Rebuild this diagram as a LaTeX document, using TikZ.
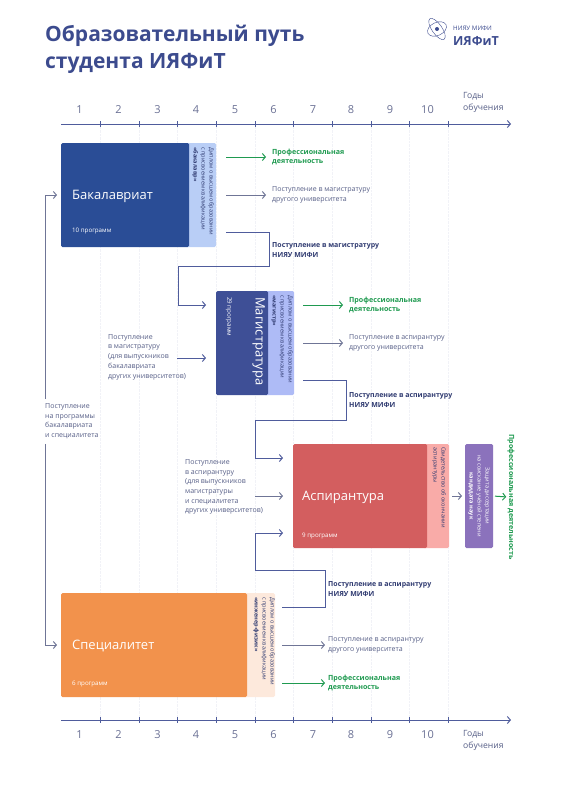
\documentclass[tikz,border=0pt]{standalone}
\usepackage{fontspec}
\setmainfont{Open Sans}
\usetikzlibrary{arrows.meta, positioning}
\definecolor{titleblue}{HTML}{3C4B8E}
\definecolor{axisblue}{HTML}{4F5C9C}
\definecolor{numgray}{HTML}{6A7094}
\definecolor{textgray}{HTML}{565E86}
\definecolor{darktext}{HTML}{2F3A70}
\definecolor{profgreen}{HTML}{1F9A50}
\definecolor{arrowgray}{HTML}{6F7596}
\definecolor{gridgray}{HTML}{F1F2F7}
\definecolor{bakfill}{HTML}{2A4D96}
\definecolor{bakpanelfill}{HTML}{B9CEF6}
\definecolor{magfill}{HTML}{3E4F96}
\definecolor{magpanelfill}{HTML}{AEBBF6}
\definecolor{aspfill}{HTML}{D35E5F}
\definecolor{asppanelfill}{HTML}{F9ABA8}
\definecolor{kandfill}{HTML}{8B72BC}
\definecolor{specfill}{HTML}{F2924C}
\definecolor{specpanelfill}{HTML}{FDE9DC}

\begin{document}
\begin{tikzpicture}[
      x=1pt, y=-1pt,
      >={Straight Barb[length=3pt,width=7pt]},
      box/.style={anchor=north west, rounded corners=1.5pt, inner sep=0pt, outer sep=0pt, minimum height=104pt},
      sidetext/.style={rotate=-90, anchor=north west, inner sep=0pt, align=left, text=#1, font=\fontsize{5.6}{8}\selectfont},
      boxtitle/.style={anchor=west, inner sep=0pt, text=white, font=\fontsize{13}{16}\selectfont},
      boxcount/.style={anchor=west, inner sep=0pt, text=white, font=\fontsize{6.2}{7}\selectfont},
      note/.style={anchor=west, inner sep=0pt, align=left, text=textgray, font=\fontsize{7}{9.7}\selectfont},
      notedark/.style={note, text=darktext, font=\fontsize{7}{9.7}\selectfont\bfseries},
      noteprof/.style={note, text=profgreen, font=\fontsize{7.1}{9.7}\selectfont\bfseries},
      yearnum/.style={inner sep=0pt, text=numgray, font=\fontsize{11}{13}\selectfont},
      yearcap/.style={note, text=textgray, font=\fontsize{8.6}{12}\selectfont},
      arrowgr/.style={->, line width=1pt, arrowgray},
      arrowdk/.style={->, line width=1pt, axisblue},
      arrowpr/.style={->, line width=1pt, profgreen}
    ]
    \useasboundingbox (0,0) rectangle (562,800);
    
    % grid and time axes
    \foreach \tx in {100,138.7,177.4,216,254.8,293.5,332.2,370.9,409.6,448.3}
      \draw[gridgray, densely dotted] (\tx,124) -- (\tx,720);
    \coordinate (topstart) at (61,124);
    \coordinate (topend) at (511,124);
    \coordinate (botstart) at (61,720);
    \coordinate (botend) at (511,720);
    \draw[->, line width=1pt, axisblue] (topstart) -- (topend);
    \draw[->, line width=1pt, axisblue] (botstart) -- (botend);
    \foreach \tx in {100,138.7,177.4,216,254.8,293.5,332.2,370.9,409.6,448.3} {
      \draw[axisblue] (\tx,121) -- (\tx,127);
      \draw[axisblue] (\tx,717) -- (\tx,723);
    }
    \foreach \n/\tx in {1/79.5,2/118.5,3/157.5,4/196,5/235,6/273.5,7/313,8/351,9/390,10/427.5} {
      \node[yearnum] (topyear\n) at (\tx,110) {\n};
      \node[yearnum] (botyear\n) at (\tx,735) {\n};
    }
    \node[yearcap] (topcap) at (463,102) {Годы\\обучения};
    \node[yearcap] (botcap) at (463,740) {Годы\\обучения};
    
    % heading and logo
    \node[anchor=north west, inner sep=0pt, align=left, text=titleblue, font=\fontsize{21}{27}\selectfont\bfseries] (heading) at (45,25) {Образовательный путь\\студента ИЯФиТ};
    \draw[titleblue, line width=0.4pt, rotate around={25:(437,29)}] (437,29) ellipse (10 and 6.5);
    \draw[titleblue, line width=0.4pt, rotate around={-55:(437,29)}] (437,29) ellipse (12.5 and 5);
    \fill[titleblue] (437,29) circle (2);
    \node[anchor=west, inner sep=0pt, text=titleblue, font=\fontsize{6.2}{7}\selectfont] (logotop) at (453,28.5) {НИЯУ МИФИ};
    \node[anchor=west, inner sep=0pt, text=titleblue, font=\fontsize{12.5}{14}\selectfont\bfseries] (logomain) at (453,41) {ИЯФиТ};
    
    % bachelor
    \node[box, fill=bakpanelfill, minimum width=31pt] (bakpanel) at (185,143) {};
    \node[box, fill=bakfill, minimum width=128pt] (bak) at (61,143) {};
    \node[boxtitle] (baktitle) at (72,196) {Бакалавриат};
    \node[boxcount] (bakcount) at (72,231) {10 программ};
    \node[sidetext=darktext] (bakdoc) at (214,147) {Диплом о высшем образовании\\с присвоением квалификации\\\textbf{«бакалавр»}};
    
    % master
    \node[box, fill=magpanelfill, minimum width=30pt] (magpanel) at (264,291) {};
    \node[box, fill=magfill, minimum width=52pt] (mag) at (216,291) {};
    \node[boxtitle, rotate=-90, anchor=north west] (magtitle) at (265,297) {Магистратура};
    \node[boxcount, rotate=-90, anchor=north west] (magcount) at (232,297) {29 программ};
    \node[sidetext=darktext] (magdoc) at (293,295) {Диплом о высшем образовании\\с присвоением квалификации\\\textbf{«магистр»}};
    
    % postgraduate
    \node[box, fill=asppanelfill, minimum width=26pt] (asppanel) at (423,444) {};
    \node[box, fill=aspfill, minimum width=134pt] (asp) at (293,444) {};
    \node[boxtitle] (asptitle) at (302,497) {Аспирантура};
    \node[boxcount] (aspcount) at (302,536) {9 программ};
    \node[sidetext=darktext] (aspdoc) at (446,447) {Свидетельство об окончании\\аспирантуры};
    \node[box, fill=kandfill, minimum width=28pt] (kand) at (465,444) {};
    \node[sidetext=white, anchor=center, align=center] (kanddoc) at (kand.center) {Защита диссертации\\на соискание учёной степени\\\textbf{кандидата наук}};
    \node[noteprof, rotate=-90, anchor=center] (kandprof) at (511,497) {Профессиональная деятельность};
    
    % specialist
    \node[box, fill=specpanelfill, minimum width=32pt] (specpanel) at (243,593) {};
    \node[box, fill=specfill, minimum width=186pt] (spec) at (61,593) {};
    \node[boxtitle] (spectitle) at (72,646) {Специалитет};
    \node[boxcount] (speccount) at (72,684) {6 программ};
    \node[sidetext=darktext] (specdoc) at (275,597) {Диплом о высшем образовании\\с присвоением квалификации\\\textbf{«инженер-физик»}};
    
    % outcome labels
    \node[noteprof] (bakprof) at (272,157) {Профессиональная\\деятельность};
    \node[note] (bakother) at (272,195) {Поступление в магистратуру\\другого университета};
    \node[notedark] (baknext) at (272,250) {Поступление в магистратуру\\НИЯУ МИФИ};
    \node[noteprof] (magprof) at (349,305) {Профессиональная\\деятельность};
    \node[note] (magother) at (349,343) {Поступление в аспирантуру\\другого университета};
    \node[notedark] (magnext) at (349,400) {Поступление в аспирантуру\\НИЯУ МИФИ};
    \node[notedark] (specnext) at (328,589) {Поступление в аспирантуру\\НИЯУ МИФИ};
    \node[note] (specother) at (328,645) {Поступление в аспирантуру\\другого университета};
    \node[noteprof] (specprof) at (328,683) {Профессиональная\\деятельность};
    
    % entry labels
    \node[note] (magentry) at (108,357) {Поступление\\в магистратуру\\(для выпускников\\бакалавриата\\других университетов)};
    \node[note] (aspentry) at (185,487) {Поступление\\в аспирантуру\\(для выпускников\\магистратуры\\и специалитета\\других университетов)};
    \node[note] (schoolentry) at (45,421) {Поступление\\на программы\\бакалавриата\\и специалитета};
    
    % outgoing arrows
    \draw[arrowpr, shorten <=10pt, shorten >=6pt] (bakpanel.east |- bakprof.west) -- (bakprof.west);
    \draw[arrowgr, shorten <=10pt, shorten >=6pt] (bakpanel.east |- bakother.west) -- (bakother.west);
    \draw[arrowpr, shorten <=9pt, shorten >=6pt] (magpanel.east |- magprof.west) -- (magprof.west);
    \draw[arrowgr, shorten <=9pt, shorten >=6pt] (magpanel.east |- magother.west) -- (magother.west);
    \draw[arrowgr, shorten <=7pt, shorten >=3pt] (specpanel.east |- specother.west) -- (specother.west);
    \draw[arrowpr, shorten <=7pt, shorten >=3pt] (specpanel.east |- specprof.west) -- (specprof.west);
    \draw[arrowgr, shorten <=3pt, shorten >=3pt] (asppanel.east |- kand.west) -- (kand.west);
    \draw[arrowpr, shorten <=2pt, shorten >=1pt] (kand.east) -- (kandprof.south);
    
    % transitions between levels
    \coordinate (bakout) at (226,232);
    \coordinate (bakturn) at (269,266);
    \coordinate (magdown) at (178,305);
    \coordinate (magin) at (206,305);
    \draw[arrowdk] (bakout) -| (bakturn) -| (magdown) -- (magin);
    \coordinate (magout) at (303,380);
    \coordinate (magturn) at (346,420);
    \coordinate (aspdown) at (255,458);
    \coordinate (aspin) at (283,458);
    \draw[arrowdk] (magout) -| (magturn) -| (aspdown) -- (aspin);
    \coordinate (specout) at (282,607);
    \coordinate (specturn) at (325,570);
    \coordinate (aspup) at (255,533);
    \coordinate (aspinlow) at (283,533);
    \draw[arrowdk] (specout) -| (specturn) -| (aspup) -- (aspinlow);
    \coordinate (magarrow) at (177,358);
    \coordinate (magtip) at (206,358);
    \draw[arrowdk] (magarrow) -- (magtip);
    \coordinate (asparrow) at (255,496);
    \coordinate (asptip) at (283,496);
    \draw[arrowgr] (asparrow) -- (asptip);
    
    % entry line on the left
    \coordinate (leftbak) at (45,195);
    \coordinate (leftspec) at (45,645);
    \coordinate (leftbaktip) at (57,195);
    \coordinate (leftspectip) at (57,645);
    \draw[arrowgr] (schoolentry.north west) ++(0,-4) -- (leftbak) -- (leftbaktip);
    \draw[arrowgr] (schoolentry.south west) ++(0,5) -- (leftspec) -- (leftspectip);
    
    \end{tikzpicture}
\end{document}
